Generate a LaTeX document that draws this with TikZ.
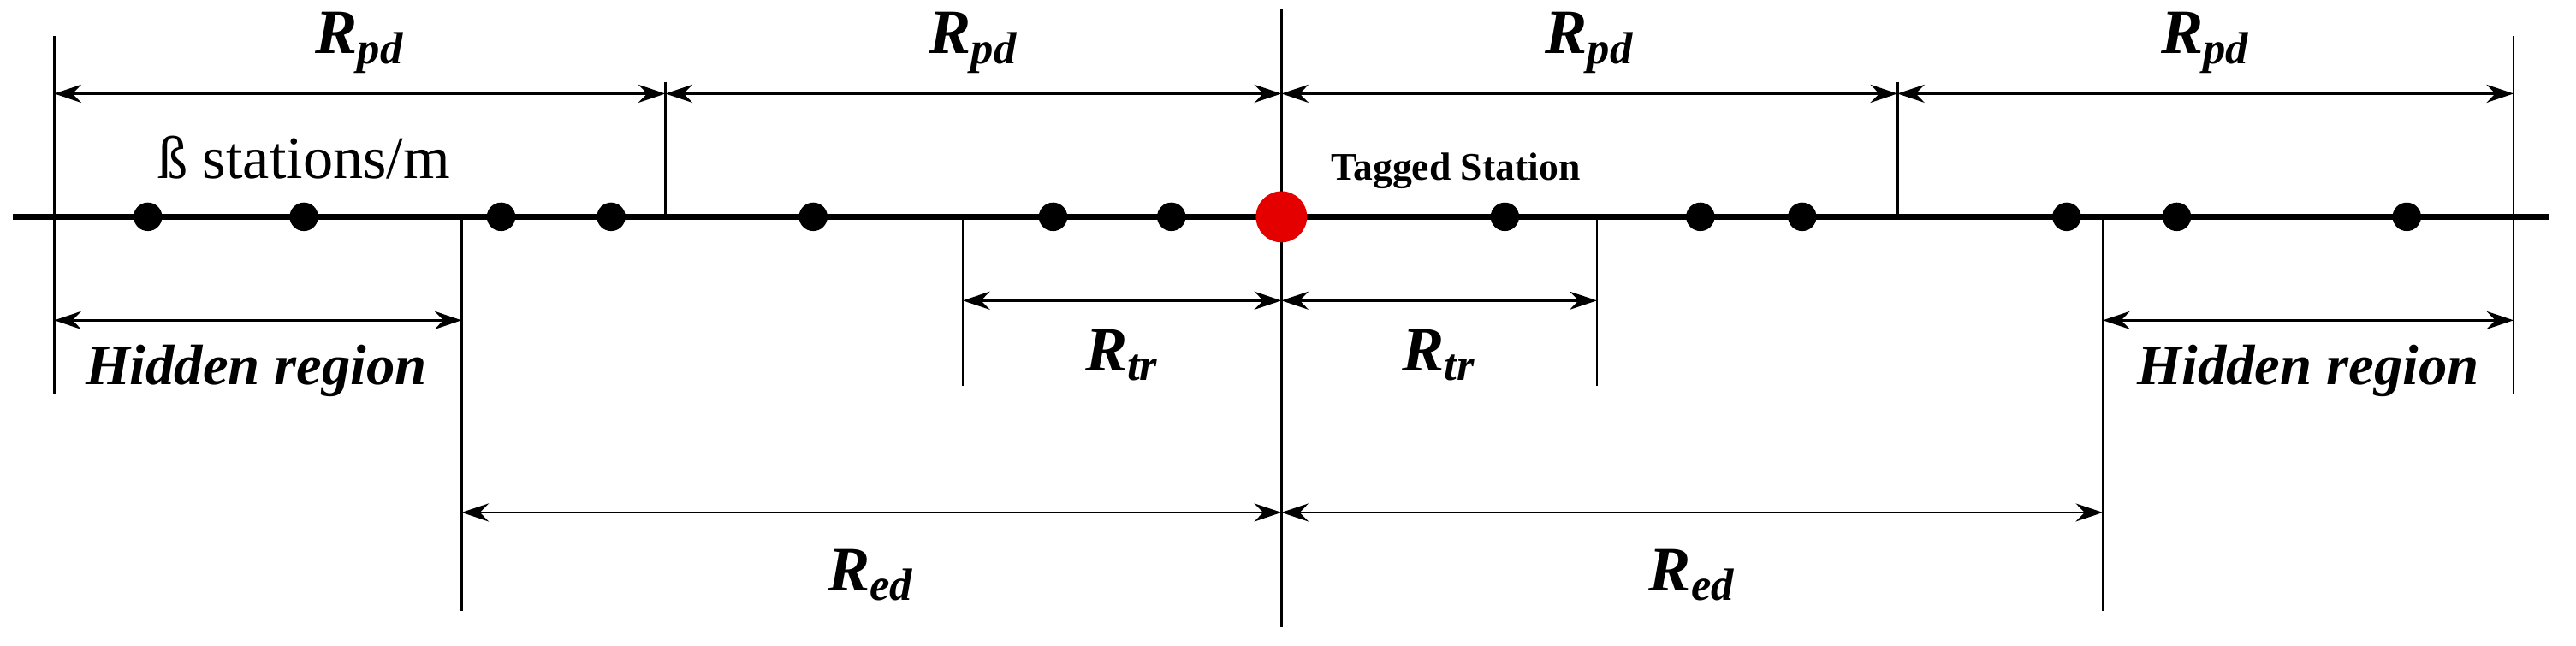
\documentclass[tikz,border=0pt]{standalone}
\usepackage{fontspec}
\setmainfont{Liberation Serif}
\usetikzlibrary{arrows.meta}
\begin{document}
\begin{tikzpicture}[x=0.0192cm,y=-0.0192cm,
  tick/.style={line width=0.8pt},
  dim/.style={line width=0.8pt,{Stealth[length=9pt,width=6pt]}-{Stealth[length=9pt,width=6pt]}},
  lab/.style={font=\fontsize{21}{24}\selectfont\bfseries\itshape},
  hid/.style={font=\fontsize{19}{22}\selectfont\bfseries\itshape},
  dot/.style={circle,fill=black,inner sep=0pt,minimum size=9.5pt}]
\useasboundingbox (0,0) rectangle (1568,393);
\draw[line width=2.2pt] (8,132) -- (1552,132);
% verticals
\draw[tick] (33,22) -- (33,240);
\draw[tick] (1530,22) -- (1530,240);
\draw[tick] (780,5) -- (780,382);
\draw[tick] (405,50) -- (405,132);
\draw[tick] (1155,50) -- (1155,132);
\draw[tick] (586,132) -- (586,235);
\draw[tick] (972,132) -- (972,235);
\draw[tick] (281,132) -- (281,372);
\draw[tick] (1280,132) -- (1280,372);
% Rpd
\foreach \a/\b in {33/405,405/780,780/1155,1155/1530}{
  \draw[dim] (\a,57) -- (\b,57);
  \node[lab] at ({(\a+\b)/2},26) {R\textsubscript{\fontsize{15}{18}\selectfont pd}};}
% Rtr
\draw[dim] (586,183) -- (780,183);
\draw[dim] (780,183) -- (972,183);
\node[lab] at (683,216) {R\textsubscript{\fontsize{15}{18}\selectfont tr}};
\node[lab] at (876,216) {R\textsubscript{\fontsize{15}{18}\selectfont tr}};
% Red
\draw[dim] (281,312) -- (780,312);
\draw[dim] (780,312) -- (1280,312);
\node[lab] at (530,350) {R\textsubscript{\fontsize{15}{18}\selectfont ed}};
\node[lab] at (1030,350) {R\textsubscript{\fontsize{15}{18}\selectfont ed}};
% hidden
\draw[dim] (33,195) -- (281,195);
\draw[dim] (1280,195) -- (1530,195);
\node[hid] at (156,226) {Hidden region};
\node[hid] at (1405,226) {Hidden region};
% dots
\foreach \x [count=\i] in {90,185,305,372,495,641,713,916,1035,1097,1258,1325,1465}
  \node[dot] (d\i) at (\x,132) {};
\node[circle,fill=red!90!black,inner sep=0pt,minimum size=17pt] (tag) at (780,132) {};
\node[font=\fontsize{20}{24}\selectfont] at (185,96) {ß stations/m};
\node[font=\fontsize{13}{16}\selectfont\bfseries] at (886,104) {Tagged Station};
\end{tikzpicture}
\end{document}
